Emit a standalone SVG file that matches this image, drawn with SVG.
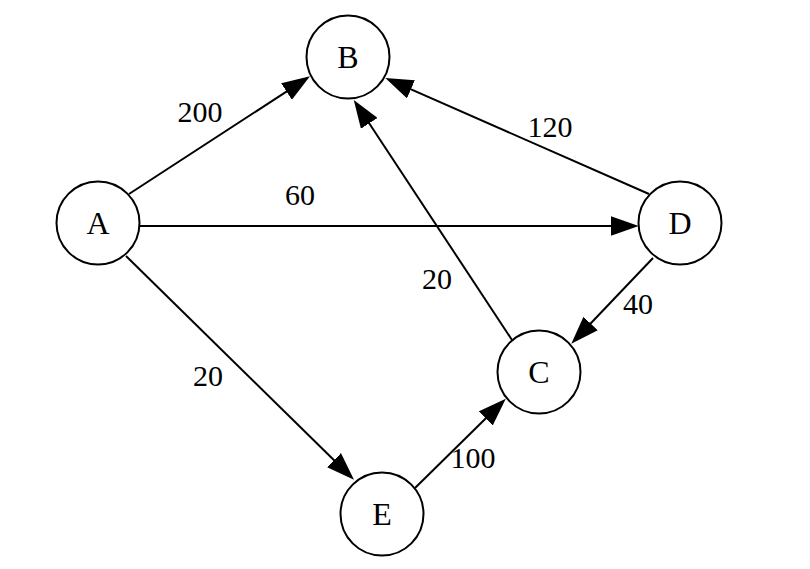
<svg xmlns="http://www.w3.org/2000/svg" width="810" height="569" viewBox="0 0 810 569">
<style>
.node circle{fill:#fff;stroke:#000;stroke-width:2}
.node text{font-family:"Liberation Serif","Times New Roman",serif;font-size:32px;text-anchor:middle;fill:#000}
.edge line{stroke:#000;stroke-width:2;fill:none}
.lbl{font-family:"Liberation Serif","Times New Roman",serif;font-size:30px;text-anchor:middle;fill:#000}
</style>
<defs>
<marker id="arr" markerUnits="userSpaceOnUse" markerWidth="28" markerHeight="20" viewBox="0 0 27 19" refX="7" refY="9.5" orient="auto">
<path d="M0,0 L27,9.5 L0,19 Z" fill="#000"/>
</marker>
</defs>
<rect width="810" height="569" fill="#fff"/>
<g id="edges" class="edge">
<line x1="129" y1="194" x2="292.6" y2="87.6" marker-end="url(#arr)"/>
<line x1="140" y1="226" x2="618" y2="226" marker-end="url(#arr)"/>
<line x1="126" y1="256" x2="339.2" y2="465.2" marker-end="url(#arr)"/>
<line x1="649" y1="194" x2="404.3" y2="86.4" marker-end="url(#arr)"/>
<line x1="512" y1="340" x2="365.2" y2="117.3" marker-end="url(#arr)"/>
<line x1="653" y1="258" x2="585.6" y2="328.8" marker-end="url(#arr)"/>
<line x1="415" y1="488" x2="491" y2="413.3" marker-end="url(#arr)"/>
</g>
<g id="labels">
<text class="lbl" x="200" y="122">200</text>
<text class="lbl" x="300" y="205">60</text>
<text class="lbl" x="550" y="137">120</text>
<text class="lbl" x="437" y="289">20</text>
<text class="lbl" x="638" y="314">40</text>
<text class="lbl" x="208" y="386">20</text>
<text class="lbl" x="473" y="468">100</text>
</g>
<g id="A" class="node"><circle cx="98" cy="223" r="41.5"/><text x="98" y="234">A</text></g>
<g id="B" class="node"><circle cx="348" cy="57" r="41.5"/><text x="348" y="68">B</text></g>
<g id="C" class="node"><circle cx="539" cy="372" r="41.5"/><text x="539" y="383">C</text></g>
<g id="D" class="node"><circle cx="680" cy="223" r="41.5"/><text x="680" y="234">D</text></g>
<g id="E" class="node"><circle cx="382" cy="514" r="41.5"/><text x="382" y="525">E</text></g>
</svg>
